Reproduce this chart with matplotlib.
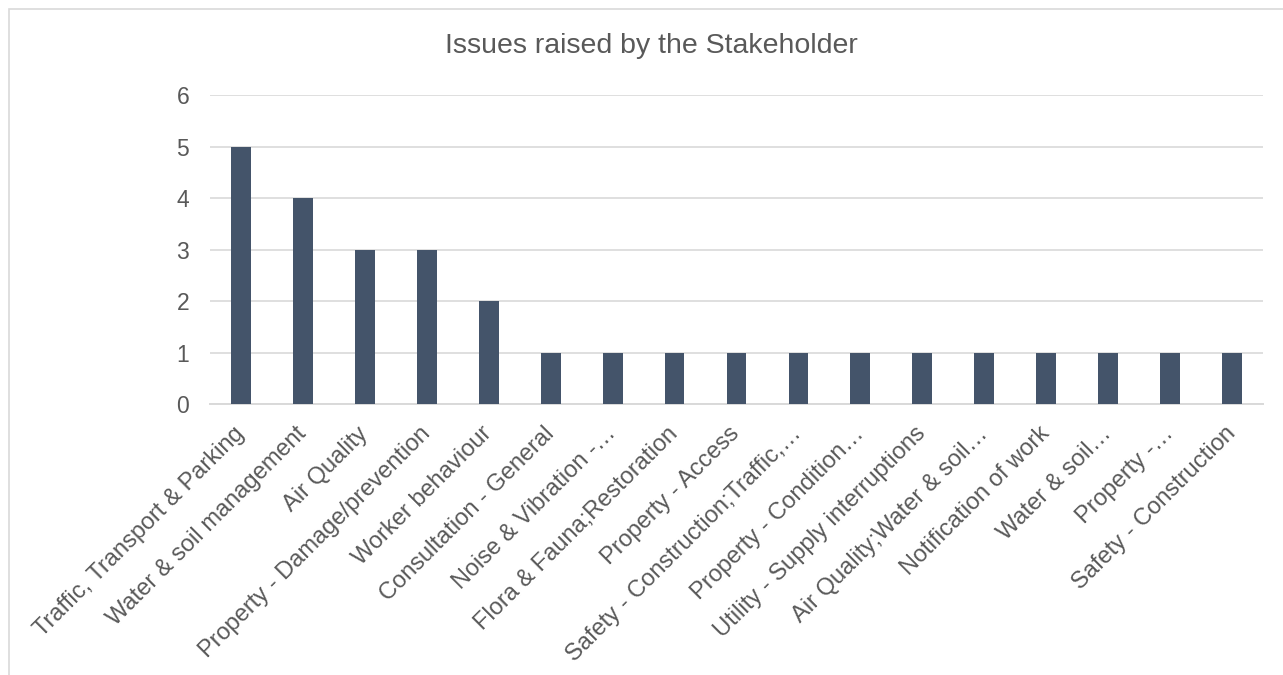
import matplotlib
matplotlib.use("Agg")
import matplotlib.pyplot as plt
from matplotlib.patches import Rectangle

# issue categories and counts
issues = [
    "Traffic, Transport & Parking",
    "Water & soil management",
    "Air Quality",
    "Property - Damage/prevention",
    "Worker behaviour",
    "Consultation - General",
    "Noise & Vibration -\u2026",
    "Flora & Fauna;Restoration",
    "Property - Access",
    "Safety - Construction;Traffic,\u2026",
    "Property - Condition\u2026",
    "Utility - Supply interruptions",
    "Air Quality;Water & soil\u2026",
    "Notification of work",
    "Water & soil\u2026",
    "Property -\u2026",
    "Safety - Construction",
]
counts = [5, 4, 3, 3, 2, 1, 1, 1, 1, 1, 1, 1, 1, 1, 1, 1, 1]
y_ticks = [0, 1, 2, 3, 4, 5, 6]

plt.rcParams['font.family'] = ['Liberation Sans', 'DejaVu Sans']
text_col = '#595959'
grid_col = '#D9D9D9'

fig = plt.figure(figsize=(12.83, 6.75), dpi=100)
ax = fig.add_axes([210/1283, 1 - 404/675, 1053/1283, 309/675])

x = range(len(issues))
ax.bar(x, counts, width=0.32, color='#44546A', zorder=3)

ax.set_xlim(-0.5, len(issues) - 0.5)
ax.set_ylim(0, 6)
ax.set_yticks(y_ticks)
ax.yaxis.grid(True, color=grid_col, linewidth=1.2, zorder=0)
for s in ['top', 'right', 'left']:
    ax.spines[s].set_visible(False)
ax.spines['bottom'].set_color(grid_col)
ax.spines['bottom'].set_linewidth(1.4)
ax.tick_params(axis='y', length=0, pad=15, labelsize=16.5, labelcolor=text_col)
ax.tick_params(axis='x', length=0, pad=19)

ax.set_xticks(list(x))
ax.set_xticklabels(issues, rotation=45, ha='right', va='center',
                   rotation_mode='anchor', fontsize=17, color=text_col)

fig.text(651/1283, 1 - 46/675, "Issues raised by the Stakeholder", ha='center',
         va='center', fontsize=20.5, color=text_col)

# chart border (right and bottom edges fall outside the image)
fig.patches.append(Rectangle((9/1283, -0.05), 1.1, 1.05 - 9/675,
                             transform=fig.transFigure, fill=False,
                             edgecolor=grid_col, linewidth=1.2))

fig.savefig("out.png", dpi=100)
